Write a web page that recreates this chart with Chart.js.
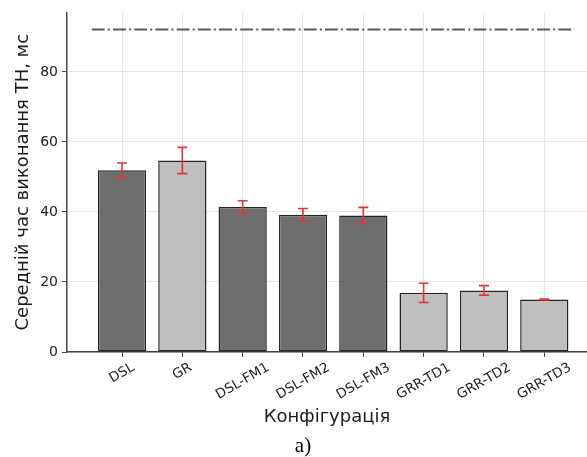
<!DOCTYPE html>
<html>
<head>
<meta charset="utf-8">
<script src="https://cdn.jsdelivr.net/npm/chart.js@4.4.1/dist/chart.umd.min.js"></script>
<style>
  html, body { margin: 0; padding: 0; background: #fff; }
  #wrap { width: 587px; height: 457px; position: relative; }
</style>
</head>
<body>
<div id="wrap"><canvas id="chart"></canvas></div>
<script>
// Configurations and mean execution time (ms) with spread
const categories = ['DSL', 'GR', 'DSL-FM1', 'DSL-FM2', 'DSL-FM3', 'GRR-TD1', 'GRR-TD2', 'GRR-TD3'];
const meanTime = [51.9, 54.7, 41.5, 39.2, 39.0, 16.9, 17.6, 15.0];
const spread = [2.1, 3.75, 1.7, 1.8, 2.3, 2.75, 1.35, 0.1];
const group = ['dark', 'light', 'dark', 'dark', 'dark', 'light', 'light', 'light'];
const limitTime = 92.1;
const limitSpan = [-0.5, 7.5];
const yTicks = [0, 20, 40, 60, 80];
const xRange = [-0.912, 7.708];
const yRange = [0, 97.0];

const groupColor = { dark: '#6e6e6e', light: '#bfbfbf' };
const textColor = '#1c1c1c';
const spineColor = '#444444';

const barData = categories.map((c, i) => ({ x: i, y: meanTime[i] }));
const limitData = limitSpan.map(x => ({ x: x, y: limitTime }));

// Red error whiskers with caps
const errorBars = {
  id: 'errorBars',
  afterDatasetsDraw(chart) {
    const xs = chart.scales.x, ys = chart.scales.y, ctx = chart.ctx;
    ctx.save();
    ctx.strokeStyle = '#e8323a';
    ctx.lineWidth = 1.6;
    categories.forEach((c, i) => {
      const x = xs.getPixelForValue(i);
      const y1 = ys.getPixelForValue(meanTime[i] + spread[i]);
      const y2 = ys.getPixelForValue(meanTime[i] - spread[i]);
      ctx.beginPath();
      ctx.moveTo(x, y1); ctx.lineTo(x, y2);
      ctx.moveTo(x - 5, y1); ctx.lineTo(x + 5, y1);
      ctx.moveTo(x - 5, y2); ctx.lineTo(x + 5, y2);
      ctx.stroke();
    });
    ctx.restore();
  }
};

// Rotated category labels centred under each tick, plus panel letter
const categoryLabels = {
  id: 'categoryLabels',
  afterDraw(chart) {
    const xs = chart.scales.x, ctx = chart.ctx;
    const top = xs.top + 9;
    const ang = Math.PI / 6;
    ctx.save();
    ctx.fillStyle = textColor;
    ctx.font = '13.5px "DejaVu Sans"';
    ctx.textAlign = 'center';
    ctx.textBaseline = 'middle';
    categories.forEach((c, i) => {
      const x = xs.getPixelForValue(i);
      const w = ctx.measureText(c).width;
      const h = 13.5 * 0.95;
      const boxH = w * Math.sin(ang) + h * Math.cos(ang);
      ctx.save();
      ctx.translate(x, top + boxH / 2);
      ctx.rotate(-ang);
      ctx.fillText(c, 0, 0);
      ctx.restore();
    });
    ctx.font = '21px "Liberation Serif"';
    ctx.textBaseline = 'alphabetic';
    ctx.fillStyle = '#000';
    ctx.fillText('а)', 303, 452);
    ctx.restore();
  }
};

new Chart(document.getElementById('chart'), {
  type: 'bar',
  data: {
    datasets: [
      {
        type: 'line',
        data: limitData,
        borderColor: '#5a5a5a',
        borderWidth: 2,
        borderDash: [12.8, 3.2, 2, 3.2],
        pointRadius: 0,
        fill: false,
        order: 0
      },
      {
        type: 'bar',
        data: barData,
        backgroundColor: group.map(g => groupColor[g]),
        borderColor: '#262626',
        borderWidth: 1.5,
        borderSkipped: false,
        barPercentage: 0.8,
        categoryPercentage: 1.0,
        order: 1
      }
    ]
  },
  options: {
    responsive: true,
    maintainAspectRatio: false,
    animation: false,
    layout: { padding: { top: 12, left: 0, right: 0, bottom: 0 } },
    plugins: { legend: { display: false }, tooltip: { enabled: false } },
    scales: {
      x: {
        type: 'linear',
        offset: false,
        min: xRange[0],
        max: xRange[1],
        afterBuildTicks: s => { s.ticks = categories.map((c, i) => ({ value: i })); },
        afterFit: s => { s.height = 105; },
        ticks: { display: false },
        grid: { offset: false, color: 'rgba(0,0,0,0.10)', lineWidth: 1, drawTicks: true, tickLength: 5, tickColor: spineColor, tickWidth: 1 },
        border: { display: true, color: spineColor, width: 1.5 },
        title: {
          display: true,
          text: 'Конфігурація',
          color: textColor,
          font: { family: 'DejaVu Sans', size: 18 },
          padding: { top: 0, bottom: 29 }
        }
      },
      y: {
        type: 'linear',
        min: yRange[0],
        max: yRange[1],
        afterBuildTicks: s => { s.ticks = yTicks.map(v => ({ value: v })); },
        afterFit: s => { s.width = 67; },
        ticks: { color: textColor, font: { family: 'DejaVu Sans', size: 14 }, padding: 4 },
        grid: { color: 'rgba(0,0,0,0.10)', lineWidth: 1, drawTicks: true, tickLength: 5, tickColor: spineColor, tickWidth: 1 },
        border: { display: true, color: spineColor, width: 1.5 },
        title: {
          display: true,
          text: 'Середній час виконання ТН, мс',
          color: textColor,
          font: { family: 'DejaVu Sans', size: 18 },
          padding: { top: 13, bottom: 0 }
        }
      }
    }
  },
  plugins: [errorBars, categoryLabels]
});
</script>
</body>
</html>
